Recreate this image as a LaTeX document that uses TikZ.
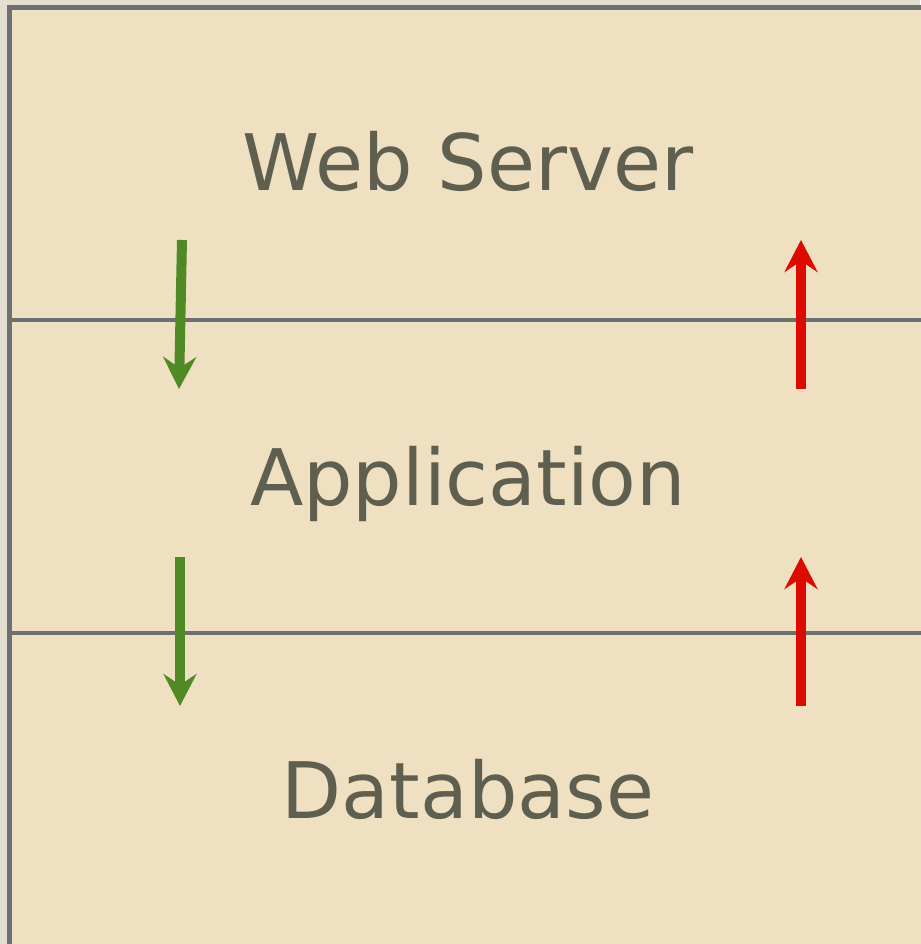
\documentclass[tikz,border=0pt]{standalone}
\usepackage{fontspec}
\setmainfont{DejaVu Sans}
\usetikzlibrary{arrows.meta}
\definecolor{outbg}{HTML}{E3DED0}
\definecolor{boxfill}{HTML}{F0E0C2}
\definecolor{boxline}{HTML}{6B7070}
\definecolor{txt}{HTML}{5F5F50}
\definecolor{grn}{HTML}{4F8A24}
\definecolor{rd}{HTML}{DD0A00}
\tikzset{
  layertext/.style={text=txt, font=\fontsize{78}{90}\selectfont, anchor=base},
  flow/.style={line width=10pt, -{Stealth[length=32pt,width=33pt,inset=11pt]}},
  sep/.style={draw=boxline, line width=4pt}
}
\begin{document}
\begin{tikzpicture}[x=1pt,y=-1pt]
\useasboundingbox (0,0) rectangle (920,944);
\fill[outbg] (0,0) rectangle (920,944);
\fill[boxfill] (9,7.5) rectangle (925,950);
\draw[sep, line width=5pt] (9,950) -- (9,7.5) -- (925,7.5);
\draw[sep] (9,320) -- (925,320);
\draw[sep] (9,633) -- (925,633);
\node[layertext] (web) at (468,190) {Web Server};
\node[layertext] (app) at (468,505) {Application};
\node[layertext] (db) at (468,818) {Database};
\coordinate (g1s) at (182,240); \coordinate (g1e) at (179,389);
\coordinate (g2s) at (180,557); \coordinate (g2e) at (180,706);
\coordinate (r1s) at (801,389); \coordinate (r1e) at (801,240);
\coordinate (r2s) at (801,706); \coordinate (r2e) at (801,557);
\draw[flow, grn] (g1s) -- (g1e);
\draw[flow, grn] (g2s) -- (g2e);
\draw[flow, rd] (r1s) -- (r1e);
\draw[flow, rd] (r2s) -- (r2e);
\end{tikzpicture}
\end{document}
